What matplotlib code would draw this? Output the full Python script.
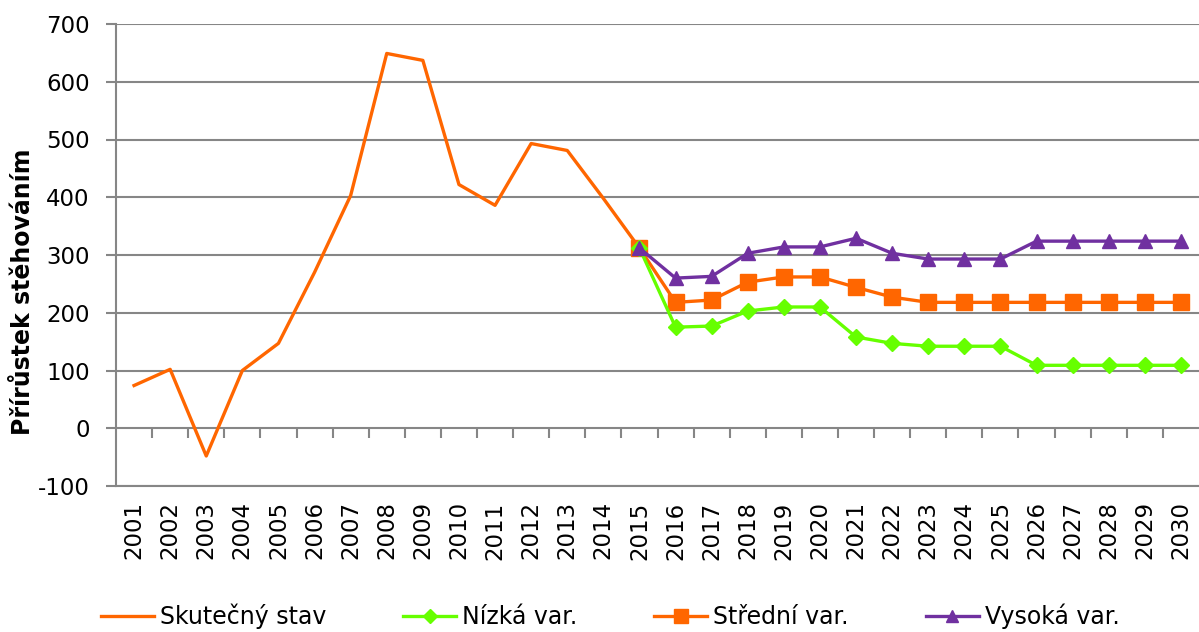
import matplotlib
matplotlib.use("Agg")
import matplotlib.pyplot as plt
import numpy as np

years = [str(y) for y in range(2001, 2031)]
actual = [74, 102, -48, 100, 147, 270, 403, 649, 637, 422, 386, 493, 481, 398, 312]
low = [312, 175, 177, 203, 210, 210, 158, 147, 142, 142, 142, 109, 109, 109, 109, 109]
mid = [312, 218, 222, 253, 262, 262, 244, 227, 218, 218, 218, 218, 218, 218, 218, 218]
high = [312, 260, 263, 303, 314, 314, 329, 303, 293, 293, 293, 324, 324, 324, 324, 324]
series_names = ["Skutečný stav", "Nízká var.", "Střední var.", "Vysoká var."]
ylabel = "Přírůstek stěhováním"

plt.rcParams['font.family'] = ['DejaVu Sans']
plt.rcParams['axes.unicode_minus'] = False
fig = plt.figure(figsize=(11.99, 6.32), dpi=100)
ax = fig.add_axes([116/1199, (632-486)/632, 1 - 116/1199, (486-24)/632])

x = np.arange(len(years))
xa = x[:len(actual)]
xp = x[len(actual)-1:]
ax.plot(xa, actual, color='#FF6600', lw=2.4, label=series_names[0], zorder=3)
ax.plot(xp, low, color='#66FF00', lw=2.4, marker='D', ms=8, label=series_names[1], zorder=4)
ax.plot(xp, mid, color='#FF6600', lw=2.4, marker='s', ms=11, label=series_names[2], zorder=3)
ax.plot(xp, high, color='#7030A0', lw=2.4, marker='^', ms=10, label=series_names[3], zorder=5)

ax.set_xlim(-0.5, len(years) - 0.5)
ax.set_ylim(-100, 700)
ax.set_yticks(range(-100, 701, 100))
ax.yaxis.grid(True, color='#868686', lw=1.5)
ax.set_axisbelow(True)
for s in ['top', 'right']:
    ax.spines[s].set_visible(False)
ax.spines['left'].set_color('#868686')
ax.spines['left'].set_linewidth(1.5)
ax.spines['bottom'].set_color('#868686')
ax.spines['bottom'].set_linewidth(1.5)
ax.tick_params(axis='y', labelsize=16.5, length=7, color='#868686', width=1.5, pad=12)
ax.set_xticks(x)
ax.set_xticklabels(years, rotation=90, fontsize=16.5)
ax.tick_params(axis='x', length=0, pad=11)

# zero axis with tick marks at category boundaries
zero_frac = (0 - (-100)) / 800
sec = ax.secondary_xaxis(zero_frac)
sec.set_xticks(np.arange(0.5, len(years) - 0.5, 1.0))
sec.xaxis.set_ticks_position('bottom')
sec.tick_params(axis='x', which='both', direction='out', length=7, color='#868686', width=1.5,
                labelbottom=False, labeltop=False, top=False, bottom=True)
sec.set_xticklabels([])
sec.spines['bottom'].set_visible(False)
sec.spines['top'].set_visible(False)

ax.set_ylabel(ylabel, fontsize=17, fontweight='bold')
ax.yaxis.set_label_coords(-0.0745, 0.42)

leg = fig.legend(loc='center', bbox_to_anchor=(0.509, 0.025), ncol=4, frameon=False,
                 fontsize=17, handlelength=2.25, columnspacing=3.25, handletextpad=0.25,
                 markerscale=0.9)
fig.savefig('out.png', dpi=100)
